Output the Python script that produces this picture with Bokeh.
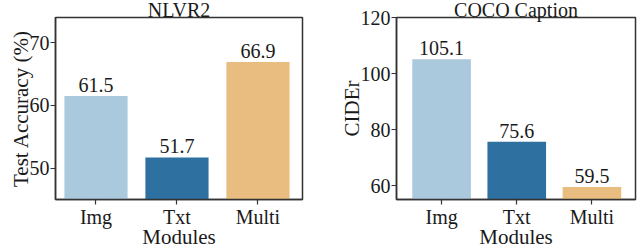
from bokeh.plotting import figure
from bokeh.layouts import row
from bokeh.models import Range1d, FixedTicker, ColumnDataSource
from bokeh.core.properties import value
from bokeh.embed import file_html
from bokeh.resources import INLINE

modules = ["Img", "Txt", "Multi"]
colors = ["#abc9dc", "#2e70a0", "#e9bc7f"]
nlvr2_acc = [61.5, 51.7, 66.9]
coco_cider = [105.1, 75.6, 59.5]
nlvr2_ticks = [50, 60, 70]
coco_ticks = [60, 80, 100, 120]

FONT = "Liberation Serif"
TXT = "#1a1a1a"
EDGE = "#333333"


def make(title, ylabel, vals, yr, yticks, xr, width, mbl, mbr):
    p = figure(width=width, height=251, output_backend="svg", toolbar_location=None,
               x_range=Range1d(*xr), y_range=Range1d(*yr),
               min_border_left=mbl, min_border_right=mbr, min_border_top=0,
               min_border_bottom=0, title=title)
    idx = list(range(len(modules)))
    src = ColumnDataSource(dict(x=idx, top=vals, color=colors,
                                label=["%.1f" % v for v in vals]))
    p.vbar(x="x", top="top", bottom=yr[0] - 10, width=0.78, color="color",
           line_color=None, source=src)
    p.text(x="x", y="top", text="label", source=src, text_align="center",
           text_baseline="bottom", y_offset=-4, text_font=value(FONT),
           text_font_size="20px", text_color=TXT)
    p.title.align = "center"
    p.title.text_font = FONT
    p.title.text_font_size = "20px"
    p.title.text_font_style = "normal"
    p.title.text_color = TXT
    p.title.standoff = -7
    p.xgrid.visible = False
    p.ygrid.visible = False
    p.outline_line_color = EDGE
    p.outline_line_width = 1.5
    p.outline_line_alpha = 1
    for ax in (p.xaxis[0], p.yaxis[0]):
        ax.axis_line_color = EDGE
        ax.axis_line_width = 1.5
        ax.major_tick_line_color = EDGE
        ax.major_tick_line_width = 1.2
        ax.major_tick_out = 5
        ax.major_tick_in = 0
        ax.minor_tick_line_color = None
        ax.major_label_text_font = FONT
        ax.major_label_text_font_size = "20px"
        ax.major_label_text_color = TXT
        ax.axis_label_text_font = FONT
        ax.axis_label_text_font_size = "21px"
        ax.axis_label_text_font_style = "normal"
        ax.axis_label_text_color = TXT
        ax.axis_label_standoff = -6
        ax.major_label_standoff = 1
    p.xaxis.ticker = FixedTicker(ticks=idx)
    p.xaxis.major_label_overrides = {i: m for i, m in enumerate(modules)}
    p.xaxis.axis_label = "Modules"
    p.yaxis.ticker = FixedTicker(ticks=yticks)
    p.yaxis.axis_label = ylabel
    return p


p1 = make("NLVR2", "Test Accuracy (%)", nlvr2_acc, (45, 74), nlvr2_ticks,
          (-0.5, 2.55), 320, 55, 18)
p2 = make("COCO Caption", "CIDEr", coco_cider, (55, 120), coco_ticks,
          (-0.6, 2.58), 320, 76, 5)

p = row(p1, p2)
open("out.html", "w").write(file_html(p, INLINE))
